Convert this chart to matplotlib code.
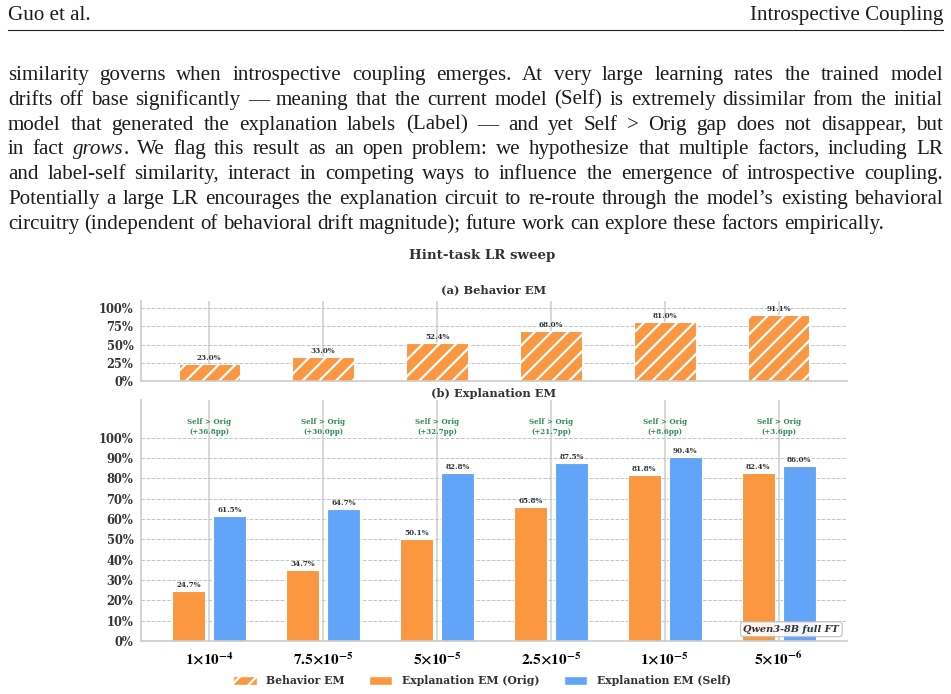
import numpy as np
import matplotlib
matplotlib.use('Agg')
import matplotlib.pyplot as plt
from matplotlib.patches import Patch
from matplotlib.lines import Line2D

plt.rcParams['mathtext.fontset'] = 'stix'
plt.rcParams['hatch.linewidth'] = 1.6

# page text
header_left = 'Guo et al.'
header_right = 'Introspective Coupling'
paragraph = [
    'similarity governs when introspective coupling emerges.  At very large learning rates the trained model',
    'drifts off base significantly \u2014 meaning that the current model (Self) is extremely dissimilar from the initial',
    'model that generated the explanation labels (Label) \u2014 and yet Self > Orig gap does not disappear, but',
    'in fact *grows*. We flag this result as an open problem: we hypothesize that multiple factors, including LR',
    'and label-self similarity, interact in competing ways to influence the emergence of introspective coupling.',
    'Potentially a large LR encourages the explanation circuit to re-route through the model\u2019s existing behavioral',
    'circuitry (independent of behavioral drift magnitude); future work can explore these factors empirically.',
]

# chart data
lr_labels = [r'$\mathbf{1{\times}10^{-4}}$', r'$\mathbf{7.5{\times}10^{-5}}$', r'$\mathbf{5{\times}10^{-5}}$',
             r'$\mathbf{2.5{\times}10^{-5}}$', r'$\mathbf{1{\times}10^{-5}}$', r'$\mathbf{5{\times}10^{-6}}$']
behavior_em = [23.0, 33.0, 52.4, 68.0, 81.0, 91.1]
expl_orig = [24.7, 34.7, 50.1, 65.8, 81.8, 82.4]
expl_self = [61.5, 64.7, 82.8, 87.5, 90.4, 86.0]

ORANGE = '#FA9740'
BLUE = '#62A5F8'
GREEN = '#2E8B57'
INK = '#1c1c1c'
DARK = '#333333'
W, H = 951, 694


def fx(x):
    return x / W


def fy(y):
    return 1 - y / H


fig = plt.figure(figsize=(9.51, 6.94), dpi=100)
renderer = fig.canvas.get_renderer()

BODY = dict(family='Liberation Serif', fontsize=15.1, color=INK)
LEFT, RIGHT = 8, 943

# header
fig.text(fx(LEFT), fy(20), header_left, va='baseline', ha='left', **BODY)
fig.text(fx(RIGHT), fy(20), header_right, va='baseline', ha='right', **BODY)
fig.add_artist(Line2D([fx(LEFT), fx(RIGHT)], [fy(29.5), fy(29.5)], color='#222222', lw=0.8))


def split_word(word):
    # '*text*' marks italic parts
    parts = word.split('*')
    return [(p, 'italic' if i % 2 else 'normal') for i, p in enumerate(parts) if p]


def text_width(s, style='normal'):
    t = fig.text(0, 0, s, style=style, **BODY)
    w = t.get_window_extent(renderer).width
    t.remove()
    return w


space_w = text_width('a a') - text_width('aa')


def place_line(line, y, justify=True):
    words = [split_word(w) for w in line.split()]
    pieces, widths = [], []
    for segs in words:
        arts, total = [], 0
        for s, style in segs:
            t = fig.text(0, fy(y), s, style=style, va='baseline', **BODY)
            bw = t.get_window_extent(renderer).width
            arts.append((t, bw))
            total += bw
        pieces.append(arts)
        widths.append(total)
    gap = (RIGHT - LEFT - sum(widths)) / (len(words) - 1) if justify else space_w
    x = LEFT
    for arts, w in zip(pieces, widths):
        xx = x
        for t, bw in arts:
            t.set_x(fx(xx))
            xx += bw
        x += w + gap


for i, line in enumerate(paragraph):
    place_line(line, 80 + 24.8 * i, justify=(i < len(paragraph) - 1))

# chart
SERIF = 'DejaVu Serif'
fig.text(fx(482), fy(256), 'Hint-task LR sweep', ha='center', va='center',
         family=SERIF, fontweight='bold', fontsize=9.6, color=DARK)
fig.text(fx(494), fy(290), '(a) Behavior EM', ha='center', va='center',
         family=SERIF, fontweight='bold', fontsize=8.2, color=DARK)
fig.text(fx(494), fy(393), '(b) Explanation EM', ha='center', va='center',
         family=SERIF, fontweight='bold', fontsize=8.2, color=DARK)

ax1 = fig.add_axes([fx(141), fy(380.7), 706 / W, 80 / H])
ax2 = fig.add_axes([fx(141), fy(641), 706 / W, 241 / H])

x = np.arange(len(lr_labels))

for ax in (ax1, ax2):
    ax.set_xlim(-0.6, 5.6)
    ax.set_xticks(x)
    ax.set_axisbelow(True)
    ax.grid(axis='y', ls='--', color='#c4c4c4', lw=0.7)
    ax.grid(axis='x', ls='-', color='#d6d6d6', lw=1.3)
    for s in ('top', 'right'):
        ax.spines[s].set_visible(False)
    for s in ('left', 'bottom'):
        ax.spines[s].set_color('#cccccc')
        ax.spines[s].set_linewidth(1.2)
    ax.tick_params(length=0, pad=5.5)

# (a) behaviour
ax1.bar(x, behavior_em, width=0.54, color=ORANGE, edgecolor='white', hatch='//', linewidth=0.8, zorder=2)
for xi, v in zip(x, behavior_em):
    ax1.annotate(f'{v:.1f}%', (xi, v), xytext=(0, 1.5), textcoords='offset points', ha='center', va='bottom',
                 family=SERIF, fontsize=5.2, fontweight='bold', color=DARK, zorder=3)
ax1.set_ylim(0, 110.5)
ax1.set_yticks([0, 25, 50, 75, 100])
ax1.set_yticklabels([f'{t}%' for t in [0, 25, 50, 75, 100]])
ax1.tick_params(labelbottom=False)

# (b) explanation
off, bw = 0.18, 0.29
ax2.bar(x - off, expl_orig, width=bw, color=ORANGE, edgecolor='white', linewidth=0.8, zorder=2)
ax2.bar(x + off, expl_self, width=bw, color=BLUE, edgecolor='white', linewidth=0.8, zorder=2)
for xi, v in zip(x - off, expl_orig):
    ax2.annotate(f'{v:.1f}%', (xi, v), xytext=(0, 1.5), textcoords='offset points', ha='center', va='bottom',
                 family=SERIF, fontsize=5.2, fontweight='bold', color=DARK, zorder=3)
for xi, v in zip(x + off, expl_self):
    ax2.annotate(f'{v:.1f}%', (xi, v), xytext=(0, 1.5), textcoords='offset points', ha='center', va='bottom',
                 family=SERIF, fontsize=5.2, fontweight='bold', color=DARK, zorder=3)
for xi, o, s in zip(x, expl_orig, expl_self):
    ax2.text(xi, 105.2, f'Self > Orig\n(+{s - o:.1f}pp)', ha='center', va='center', linespacing=1.25,
             family=SERIF, fontsize=5.1, fontweight='bold', color=GREEN)
ax2.set_ylim(0, 118.5)
yt = list(range(0, 101, 10))
ax2.set_yticks(yt)
ax2.set_yticklabels([f'{t}%' for t in yt])
ax2.set_xticklabels(lr_labels, fontsize=11)
ax2.tick_params(axis='x', pad=7)
ax2.text(0.989, 0.03, 'Qwen3-8B full FT', transform=ax2.transAxes, ha='right', va='bottom',
         family=SERIF, fontsize=7, style='italic', fontweight='bold', color=DARK, zorder=5,
         bbox=dict(boxstyle='round,pad=0.3', fc='white', ec='#bbbbbb', lw=0.8, alpha=0.9))

for ax in (ax1, ax2):
    for lab in ax.get_yticklabels():
        lab.set_family(SERIF)
        lab.set_fontweight('bold')
        lab.set_fontsize(8.3)
        lab.set_color(DARK)

handles = [
    Patch(facecolor=ORANGE, edgecolor='white', hatch='//', label='Behavior EM'),
    Patch(facecolor=ORANGE, edgecolor='white', label='Explanation EM (Orig)'),
    Patch(facecolor=BLUE, edgecolor='white', label='Explanation EM (Self)'),
]
leg = fig.legend(handles=handles, loc='center', bbox_to_anchor=(fx(482), fy(681)), ncol=3, frameon=False,
                 prop=dict(family=SERIF, weight='bold', size=7.8), handlelength=2.2, handleheight=0.9,
                 handletextpad=0.9, columnspacing=2.2)
for t in leg.get_texts():
    t.set_color(DARK)

fig.savefig('out.png', dpi=100)
